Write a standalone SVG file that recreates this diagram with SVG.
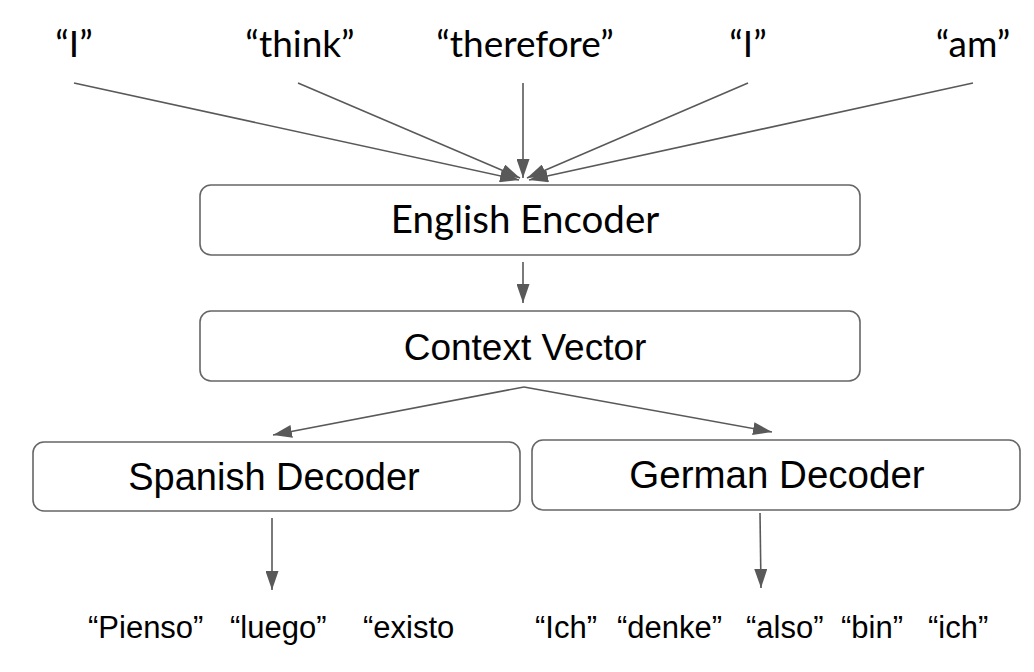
<svg xmlns="http://www.w3.org/2000/svg" width="1034" height="672" viewBox="0 0 1034 672">
<style>
.bg{fill:#ffffff}
.box{fill:#ffffff;stroke:#666666;stroke-width:1.6}
.cal{font-family:Lato,"Open Sans","Liberation Sans",sans-serif;fill:#000000;text-anchor:middle}
.ari{font-family:"Liberation Sans",Arial,sans-serif;fill:#000000;text-anchor:middle}
.word{font-family:"Liberation Sans",Arial,sans-serif;fill:#000000;font-size:31px}
.conn{stroke:#595959;stroke-width:1.6;fill:none;marker-end:url(#ah)}
</style>
<defs>
<marker id="ah" markerUnits="userSpaceOnUse" markerWidth="19" markerHeight="13" refX="19" refY="6.5" orient="auto">
<path d="M0,0 L19,6.5 L0,13 z" fill="#595959"/>
</marker>
</defs>
<rect class="bg" x="0" y="0" width="1034" height="672"/>
<g id="inputs">
<text class="cal" x="74" y="57" font-size="37">“I”</text>
<text class="cal" x="300" y="57" font-size="37">“think”</text>
<text class="cal" x="525" y="57" font-size="37">“therefore”</text>
<text class="cal" x="748" y="57" font-size="37">“I”</text>
<text class="cal" x="973" y="57" font-size="37">“am”</text>
</g>
<g id="connectors">
<line class="conn" x1="74" y1="83" x2="519" y2="180"/>
<line class="conn" x1="298" y1="83" x2="520" y2="178"/>
<line class="conn" x1="523" y1="83" x2="523" y2="178"/>
<line class="conn" x1="748" y1="83" x2="527" y2="178"/>
<line class="conn" x1="973" y1="83" x2="529" y2="180"/>
<line class="conn" x1="523" y1="262" x2="523" y2="303"/>
<polyline class="conn" points="524,387 273,435"/>
<polyline class="conn" points="524,387 772,432"/>
<line class="conn" x1="272" y1="518" x2="272" y2="590"/>
<line class="conn" x1="760" y1="513" x2="761" y2="588"/>
</g>
<g id="english-encoder">
<rect class="box" x="200" y="185" width="660" height="70" rx="11"/>
<text class="cal" x="525" y="233" font-size="38.5">English Encoder</text>
</g>
<g id="context-vector">
<rect class="box" x="200" y="311" width="660" height="70" rx="11"/>
<text class="ari" x="525" y="360" font-size="37">Context Vector</text>
</g>
<g id="spanish-decoder">
<rect class="box" x="33" y="442" width="487" height="69" rx="11"/>
<text class="ari" x="274" y="490" font-size="38">Spanish Decoder</text>
</g>
<g id="german-decoder">
<rect class="box" x="532" y="440" width="488" height="70" rx="11"/>
<text class="ari" x="777" y="488" font-size="38.5">German Decoder</text>
</g>
<g id="spanish-output">
<text class="word" x="88" y="638">“Pienso”</text>
<text class="word" x="230" y="638">“luego”</text>
<text class="word" x="363" y="638">“existo</text>
</g>
<g id="german-output">
<text class="word" x="535" y="638">“Ich”</text>
<text class="word" x="617" y="638">“denke”</text>
<text class="word" x="746" y="638">“also”</text>
<text class="word" x="841" y="638">“bin”</text>
<text class="word" x="928" y="638">“ich”</text>
</g>
</svg>
